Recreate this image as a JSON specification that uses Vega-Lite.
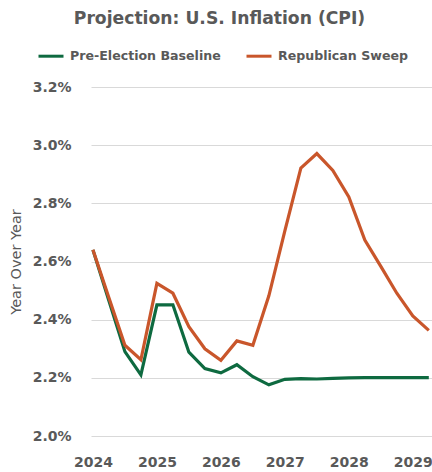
{
  "$schema": "https://vega.github.io/schema/vega-lite/v6.json",
  "autosize": "none",
  "width": 341,
  "height": 349,
  "padding": {"left": 91, "top": 87, "right": 0, "bottom": 36},
  "background": "white",
  "title": {
    "text": "Projection: U.S. Inflation (CPI)",
    "anchor": "middle",
    "dx": -42,
    "baseline": "alphabetic",
    "offset": 1,
    "font": "DejaVu Sans",
    "fontSize": 17.2,
    "fontWeight": "bold",
    "color": "#595959"
  },
  "config": {
    "view": {"stroke": null},
    "font": "DejaVu Sans"
  },
  "data": {
    "values": [
      {"t": 2024.00, "series": "Pre-Election Baseline", "v": 2.640},
      {"t": 2024.25, "series": "Pre-Election Baseline", "v": 2.465},
      {"t": 2024.50, "series": "Pre-Election Baseline", "v": 2.290},
      {"t": 2024.75, "series": "Pre-Election Baseline", "v": 2.210},
      {"t": 2025.00, "series": "Pre-Election Baseline", "v": 2.451},
      {"t": 2025.25, "series": "Pre-Election Baseline", "v": 2.451},
      {"t": 2025.50, "series": "Pre-Election Baseline", "v": 2.288},
      {"t": 2025.75, "series": "Pre-Election Baseline", "v": 2.232},
      {"t": 2026.00, "series": "Pre-Election Baseline", "v": 2.217},
      {"t": 2026.25, "series": "Pre-Election Baseline", "v": 2.245},
      {"t": 2026.50, "series": "Pre-Election Baseline", "v": 2.204},
      {"t": 2026.75, "series": "Pre-Election Baseline", "v": 2.176},
      {"t": 2027.00, "series": "Pre-Election Baseline", "v": 2.195},
      {"t": 2027.25, "series": "Pre-Election Baseline", "v": 2.197},
      {"t": 2027.50, "series": "Pre-Election Baseline", "v": 2.196},
      {"t": 2027.75, "series": "Pre-Election Baseline", "v": 2.198},
      {"t": 2028.00, "series": "Pre-Election Baseline", "v": 2.200},
      {"t": 2028.25, "series": "Pre-Election Baseline", "v": 2.201},
      {"t": 2028.50, "series": "Pre-Election Baseline", "v": 2.201},
      {"t": 2028.75, "series": "Pre-Election Baseline", "v": 2.201},
      {"t": 2029.00, "series": "Pre-Election Baseline", "v": 2.201},
      {"t": 2029.25, "series": "Pre-Election Baseline", "v": 2.201},
      {"t": 2024.00, "series": "Republican Sweep", "v": 2.640},
      {"t": 2024.25, "series": "Republican Sweep", "v": 2.475},
      {"t": 2024.50, "series": "Republican Sweep", "v": 2.312},
      {"t": 2024.75, "series": "Republican Sweep", "v": 2.262},
      {"t": 2025.00, "series": "Republican Sweep", "v": 2.525},
      {"t": 2025.25, "series": "Republican Sweep", "v": 2.491},
      {"t": 2025.50, "series": "Republican Sweep", "v": 2.376},
      {"t": 2025.75, "series": "Republican Sweep", "v": 2.300},
      {"t": 2026.00, "series": "Republican Sweep", "v": 2.260},
      {"t": 2026.25, "series": "Republican Sweep", "v": 2.327},
      {"t": 2026.50, "series": "Republican Sweep", "v": 2.312},
      {"t": 2026.75, "series": "Republican Sweep", "v": 2.482},
      {"t": 2027.00, "series": "Republican Sweep", "v": 2.705},
      {"t": 2027.25, "series": "Republican Sweep", "v": 2.921},
      {"t": 2027.50, "series": "Republican Sweep", "v": 2.971},
      {"t": 2027.75, "series": "Republican Sweep", "v": 2.913},
      {"t": 2028.00, "series": "Republican Sweep", "v": 2.822},
      {"t": 2028.25, "series": "Republican Sweep", "v": 2.674},
      {"t": 2028.50, "series": "Republican Sweep", "v": 2.583},
      {"t": 2028.75, "series": "Republican Sweep", "v": 2.491},
      {"t": 2029.00, "series": "Republican Sweep", "v": 2.413},
      {"t": 2029.25, "series": "Republican Sweep", "v": 2.363}
    ]
  },
  "mark": {"type": "line", "strokeWidth": 3.2, "strokeJoin": "miter"},
  "encoding": {
    "x": {
      "field": "t",
      "type": "quantitative",
      "scale": {"domain": [2023.97, 2029.3], "nice": false, "zero": false},
      "axis": {
        "title": null,
        "values": [2024, 2025, 2026, 2027, 2028, 2029],
        "format": "d",
        "grid": false,
        "ticks": false,
        "domain": false,
        "labelFont": "DejaVu Sans",
        "labelFontSize": 14,
        "labelFontWeight": "bold",
        "labelColor": "#595959",
        "labelPadding": 19,
        "labelFlush": false,
        "labelOverlap": false
      }
    },
    "y": {
      "field": "v",
      "type": "quantitative",
      "scale": {"domain": [2.0, 3.2], "nice": false, "zero": false},
      "axis": {
        "title": "Year Over Year",
        "values": [2.0, 2.2, 2.4, 2.6, 2.8, 3.0, 3.2],
        "labelExpr": "format(datum.value, '.1f') + '%'",
        "grid": true,
        "gridColor": "#d9d9d9",
        "gridWidth": 1,
        "ticks": false,
        "domain": false,
        "labelFont": "DejaVu Sans",
        "labelFontSize": 14,
        "labelFontWeight": "bold",
        "labelColor": "#595959",
        "labelPadding": 20,
        "titleFont": "DejaVu Sans",
        "titleFontSize": 14.5,
        "titleFontWeight": "normal",
        "titleColor": "#595959",
        "titleAngle": -90,
        "titleAlign": "center",
        "titleBaseline": "middle",
        "titleX": -75,
        "titleY": 174.5
      }
    },
    "color": {
      "field": "series",
      "type": "nominal",
      "scale": {
        "domain": ["Pre-Election Baseline", "Republican Sweep"],
        "range": ["#0e6a40", "#c9562b"]
      },
      "legend": {
        "title": null,
        "orient": "none",
        "direction": "horizontal",
        "legendX": -54,
        "legendY": -45,
        "symbolType": "stroke",
        "symbolSize": 625,
        "symbolStrokeWidth": 3,
        "labelFont": "DejaVu Sans",
        "labelFontSize": 12.6,
        "labelFontWeight": "bold",
        "labelColor": "#595959",
        "labelOffset": 5,
        "columnPadding": 19,
        "labelLimit": 300
      }
    }
  }
}
